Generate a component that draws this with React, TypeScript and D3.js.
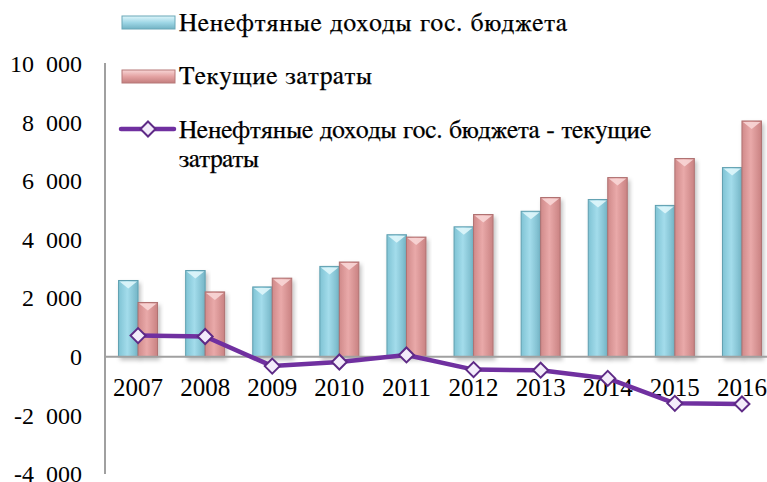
import React from "react";
import * as d3 from "d3";

const years = ["2007", "2008", "2009", "2010", "2011", "2012", "2013", "2014", "2015", "2016"];
const revenue = [2600, 2940, 2380, 3080, 4160, 4430, 4960, 5360, 5160, 6450];
const expenses = [1850, 2210, 2680, 3230, 4080, 4850, 5430, 6110, 6760, 8040];
const balance = [720, 690, -320, -180, 60, -440, -460, -740, -1590, -1610];
const yTicks = [-4000, -2000, 0, 2000, 4000, 6000, 8000, 10000];
const legendLabels = [
  "Ненефтяные доходы гос. бюджета",
  "Текущие затраты",
  "Ненефтяные доходы гос. бюджета - текущие",
  "затраты",
];

const W = 767;
const H = 482;
const FONT = "'Liberation Serif', 'Times New Roman', serif";
const CYR_FONT = "FreeSerif, 'Liberation Serif', serif";

function fmt(v: number) {
  const s = Math.abs(v).toString();
  const withSpace = s.length > 3 ? s.slice(0, s.length - 3) + "\u2002" + s.slice(s.length - 3) : s;
  return (v < 0 ? "-" : "") + withSpace;
}

export default function App() {
  const x = d3.scaleBand<string>().domain(years).range([104.5, 775.5]).padding(0);
  const y = d3.scaleLinear().domain([-4000, 10000]).range([474, 63.5]);
  const barW = 19.5;
  const zero = y(0);
  const line = d3
    .line<number>()
    .x((_, i) => (x(years[i]) as number) + x.bandwidth() / 2)
    .y((d) => y(d));

  const bar = (cx: number, v: number, kind: "b" | "p", key: string) => {
    const top = y(v);
    const h = zero - top;
    const fill = kind === "b" ? "url(#gBlue)" : "url(#gPink)";
    const stroke = kind === "b" ? "#5f9fb0" : "#b07272";
    const cap = kind === "b" ? "#dff6fb" : "#f8d6d6";
    return (
      <g key={key} filter="url(#shadow)">
        <rect x={cx} y={top} width={barW} height={h} fill={fill} stroke={stroke} strokeWidth={1} />
        <polygon
          points={`${cx + 1},${top + 1} ${cx + barW - 1},${top + 1} ${cx + barW / 2},${top + 8}`}
          fill={cap}
          opacity={0.9}
        />
      </g>
    );
  };

  const legendText = (i: number, yy: number, len: number) => (
    <text
      x={179}
      y={yy}
      fontSize={25.5}
      fill="#000"
      fontFamily={CYR_FONT}
      stroke="#000"
      strokeWidth={0.25}
      textLength={len}
      lengthAdjust="spacing"
    >
      {legendLabels[i]}
    </text>
  );

  return (
    <svg
      width={W}
      height={H}
      style={{ position: "absolute", left: 0, top: 0, background: "#fff" }}
      fontFamily={FONT}
    >
      <defs>
        <linearGradient id="gBlue" x1="0" x2="1" y1="0" y2="0">
          <stop offset="0%" stopColor="#7fc3d4" />
          <stop offset="45%" stopColor="#a3dceb" />
          <stop offset="100%" stopColor="#74b5c6" />
        </linearGradient>
        <linearGradient id="gPink" x1="0" x2="1" y1="0" y2="0">
          <stop offset="0%" stopColor="#d08a8a" />
          <stop offset="45%" stopColor="#e9a9a9" />
          <stop offset="100%" stopColor="#c98282" />
        </linearGradient>
        <linearGradient id="lBlue" x1="0" x2="0" y1="0" y2="1">
          <stop offset="0%" stopColor="#dff6fb" />
          <stop offset="50%" stopColor="#9fd7e6" />
          <stop offset="100%" stopColor="#72b3c4" />
        </linearGradient>
        <linearGradient id="lPink" x1="0" x2="0" y1="0" y2="1">
          <stop offset="0%" stopColor="#f8d6d6" />
          <stop offset="50%" stopColor="#e4a3a3" />
          <stop offset="100%" stopColor="#c47e7e" />
        </linearGradient>
        <filter id="shadow" x="-30%" y="-10%" width="160%" height="130%">
          <feDropShadow dx="2" dy="3" stdDeviation="2" floodColor="#000" floodOpacity="0.25" />
        </filter>
      </defs>

      {/* y tick labels */}
      {yTicks.map((t) => (
        <text key={t} x={82} y={y(t)} dy="0.35em" textAnchor="end" fontSize={24} fill="#000">
          {fmt(t)}
        </text>
      ))}

      {/* bars */}
      {years.map((yr, i) => {
        const c = (x(yr) as number) + x.bandwidth() / 2;
        return (
          <g key={yr}>
            {bar(c - barW, revenue[i], "b", "b" + yr)}
            {bar(c, expenses[i], "p", "p" + yr)}
          </g>
        );
      })}

      {/* axes */}
      <line x1={105} x2={105} y1={63} y2={474} stroke="#a0a0a0" strokeWidth={2} />
      <line x1={105} x2={W} y1={zero} y2={zero} stroke="#a0a0a0" strokeWidth={2} />

      {/* x labels */}
      {years.map((yr) => (
        <text
          key={yr}
          x={(x(yr) as number) + x.bandwidth() / 2}
          y={396}
          textAnchor="middle"
          fontSize={25}
          fill="#000"
        >
          {yr}
        </text>
      ))}

      {/* line */}
      <path d={line(balance) || ""} fill="none" stroke="#7030a0" strokeWidth={4.5} strokeLinejoin="round" />
      {balance.map((v, i) => {
        const cx = (x(years[i]) as number) + x.bandwidth() / 2;
        const cy = y(v);
        const r = 7.5;
        return (
          <polygon
            key={i}
            points={`${cx},${cy - r} ${cx + r},${cy} ${cx},${cy + r} ${cx - r},${cy}`}
            fill="#f3ecfa"
            stroke="#5e2a86"
            strokeWidth={2}
          />
        );
      })}

      {/* legend */}
      <g>
        <rect x={122} y={16} width={53} height={13} fill="url(#lBlue)" stroke="#6aa8b8" strokeWidth={1} />
        {legendText(0, 31, 388)}
        <rect x={122} y={70} width={53} height={13} fill="url(#lPink)" stroke="#b67878" strokeWidth={1} />
        {legendText(1, 84, 193)}
        <line x1={121} x2={174} y1={129} y2={129} stroke="#7030a0" strokeWidth={4.5} strokeLinecap="round" />
        <polygon points="148,121.5 155.5,129 148,136.5 140.5,129" fill="#f3ecfa" stroke="#5e2a86" strokeWidth={2} />
        {legendText(2, 138, 472)}
        {legendText(3, 166.5, 80)}
      </g>
    </svg>
  );
}
